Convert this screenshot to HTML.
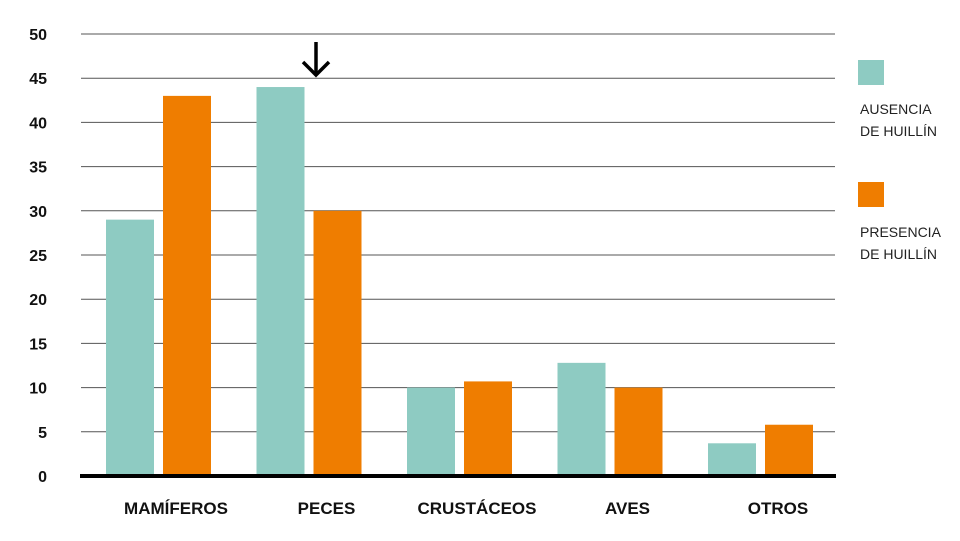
<!DOCTYPE html>
<html><head><meta charset="utf-8"><style>
body{margin:0;background:#fff;}
svg text{font-family:"Liberation Sans",sans-serif;}
</style></head><body>
<svg id="chart" width="960" height="536">
<g id="grid"></g><g id="bars"></g><g id="labels"></g>
<line x1="80" x2="836" y1="476" y2="476" stroke="#000" stroke-width="4"/>
<g stroke="#000" stroke-width="3.5" fill="none">
<line x1="316" y1="42" x2="316" y2="75"/><polyline points="303,62 316,75 329,62"/></g>
<g>
<rect x="858" y="60" width="26" height="25" fill="#8ecbc2"/>
<text x="860" y="114" font-size="14" fill="#222"><tspan x="860">AUSENCIA</tspan><tspan x="860" dy="22">DE HUILLÍN</tspan></text>
<rect x="858" y="182" width="26" height="25" fill="#ef7d00"/>
<text x="860" y="237" font-size="14" fill="#222"><tspan x="860">PRESENCIA</tspan><tspan x="860" dy="22">DE HUILLÍN</tspan></text>
</g>
</svg>
<script>
const categories=["MAMÍFEROS","PECES","CRUSTÁCEOS","AVES","OTROS"];
const ausencia=[29,44,10,12.8,3.7];
const presencia=[43,30,10.7,10,5.8];
const ticks=[0,5,10,15,20,25,30,35,40,45,50];
const NS="http://www.w3.org/2000/svg";
const y=v=>476-v*8.84;
const groupX=i=>106+i*150.5;
function mk(t,a,p){const e=document.createElementNS(NS,t);for(const k in a)e.setAttribute(k,a[k]);p.appendChild(e);return e;}
const grid=document.getElementById('grid'),bars=document.getElementById('bars'),labels=document.getElementById('labels');
ticks.forEach(t=>{
  if(t>0){const l=mk('line',{x1:81,x2:835,y1:y(t),y2:y(t),stroke:'#555','stroke-width':1},grid);
  
  }
  const tx=mk('text',{x:47,y:y(t)+6,'text-anchor':'end','font-size':16,'font-weight':'bold',fill:'#111'},labels);
  tx.textContent=t;
  
  
});
categories.forEach((c,i)=>{
  const x=groupX(i);
  const a=mk('rect',{x:x,y:y(ausencia[i]),width:48,height:476-y(ausencia[i]),fill:'#8ecbc2'},bars);
  
  
  const p=mk('rect',{x:x+57,y:y(presencia[i]),width:48,height:476-y(presencia[i]),fill:'#ef7d00'},bars);
  
  
  const t=mk('text',{x:x+70,y:514,'text-anchor':'middle','font-size':17,'font-weight':'bold',fill:'#111'},labels);
  t.textContent=c;
  
  
});
</script>
</body></html>
